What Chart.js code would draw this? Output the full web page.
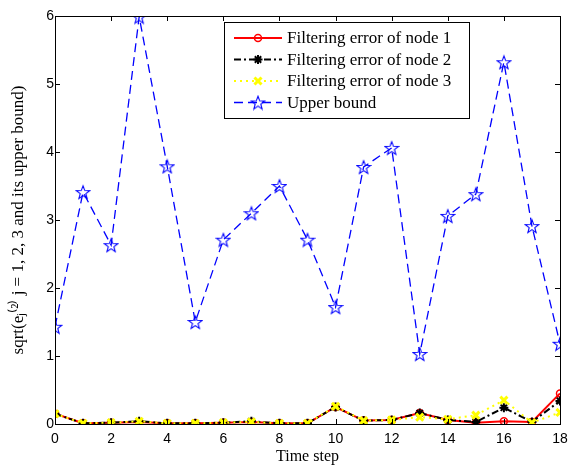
<!DOCTYPE html>
<html>
<head>
<meta charset="utf-8">
<script src="https://cdn.jsdelivr.net/npm/chart.js@4/dist/chart.umd.min.js"></script>
<style>
  html, body { margin: 0; padding: 0; background: #fff; }
  #wrap { width: 587px; height: 466px; }
</style>
</head>
<body>
<div id="wrap"><canvas id="c" width="587" height="466"></canvas></div>
<script>
// time steps and values
const steps = [0, 1, 2, 3, 4, 5, 6, 7, 8, 9, 10, 11, 12, 13, 14, 15, 16, 17, 18];
const node1 = [0.15, 0.01, 0.02, 0.03, 0.01, 0.01, 0.02, 0.03, 0.01, 0.01, 0.25, 0.05, 0.06, 0.16, 0.06, 0.02, 0.04, 0.03, 0.45];
const node2 = [0.15, 0.01, 0.02, 0.04, 0.01, 0.01, 0.02, 0.04, 0.01, 0.01, 0.25, 0.05, 0.06, 0.16, 0.06, 0.03, 0.24, 0.03, 0.34];
const node3 = [0.15, 0.01, 0.02, 0.04, 0.01, 0.01, 0.02, 0.03, 0.01, 0.01, 0.26, 0.05, 0.06, 0.10, 0.07, 0.13, 0.35, 0.02, 0.17];
const upper = [1.43, 3.41, 2.63, 5.99, 3.79, 1.50, 2.71, 3.10, 3.50, 2.71, 1.72, 3.78, 4.06, 1.03, 3.06, 3.38, 5.32, 2.91, 1.18];
const seriesNames = ["Filtering error of node 1", "Filtering error of node 2", "Filtering error of node 3", "Upper bound"];
const xTicks = [0, 2, 4, 6, 8, 10, 12, 14, 16, 18];
const yTicks = [0, 1, 2, 3, 4, 5, 6];

const pts = vals => vals.map((v, i) => ({ x: steps[i], y: v }));

// open pentagram marker like matlab's 'p'
function makeStar(color, size) {
  const c = document.createElement("canvas");
  c.width = size; c.height = size;
  const g = c.getContext("2d");
  const cx = size / 2, cy = size / 2 + 0.7, R = size / 2 - 1, r = R * 0.42;
  g.beginPath();
  for (let k = 0; k < 10; k++) {
    const a = -Math.PI / 2 + k * Math.PI / 5;
    const rr = k % 2 === 0 ? R : r;
    const px = cx + rr * Math.cos(a), py = cy + rr * Math.sin(a);
    k === 0 ? g.moveTo(px, py) : g.lineTo(px, py);
  }
  g.closePath();
  g.strokeStyle = color;
  g.lineWidth = 1.1;
  g.stroke();
  return c;
}
const starImg = makeStar("#0000ff", 16);

const datasets = [
  { label: seriesNames[0], data: pts(node1), borderColor: "#ff0000", backgroundColor: "rgba(0,0,0,0)",
    borderWidth: 2, pointStyle: "circle", pointRadius: 3.5, pointBorderWidth: 1.5, order: 3 },
  { label: seriesNames[1], data: pts(node2), borderColor: "#000000", backgroundColor: "#000000",
    borderWidth: 2, borderDash: [7, 3, 2, 3], pointStyle: "star", pointRadius: 4.5, pointBorderWidth: 2, order: 2 },
  { label: seriesNames[2], data: pts(node3), borderColor: "#ffff00", backgroundColor: "#ffff00",
    borderWidth: 2, borderDash: [2, 4], pointStyle: "crossRot", pointRadius: 5, pointBorderWidth: 3, order: 1 },
  { label: seriesNames[3], data: pts(upper), borderColor: "#0000ff", backgroundColor: "#0000ff",
    borderWidth: 1.3, borderDash: [9, 5], pointStyle: starImg, order: 0 }
];

// frame with inward ticks on all four sides, plus the boxed legend
const framePlugin = {
  id: "frame",
  afterDraw(chart) {
    const { ctx, chartArea: a, scales } = chart;
    ctx.save();
    ctx.strokeStyle = "#000";
    ctx.lineWidth = 1;
    ctx.strokeRect(Math.round(a.left) + 0.5, Math.round(a.top) + 0.5, Math.round(a.right - a.left), Math.round(a.bottom - a.top));
    ctx.beginPath();
    xTicks.forEach(t => {
      const x = Math.round(scales.x.getPixelForValue(t)) + 0.5;
      ctx.moveTo(x, a.bottom); ctx.lineTo(x, a.bottom - 5);
      ctx.moveTo(x, a.top); ctx.lineTo(x, a.top + 5);
    });
    yTicks.forEach(t => {
      const y = Math.round(scales.y.getPixelForValue(t)) + 0.5;
      ctx.moveTo(a.left, y); ctx.lineTo(a.left + 5, y);
      ctx.moveTo(a.right, y); ctx.lineTo(a.right - 5, y);
    });
    ctx.stroke();

    // legend
    const lx = 224, ly = 22, lw = 245, lh = 96;
    ctx.fillStyle = "#fff";
    ctx.fillRect(lx, ly, lw, lh);
    ctx.strokeRect(lx + 0.5, ly + 0.5, lw, lh);
    ctx.font = "17px 'Liberation Serif'";
    ctx.textBaseline = "middle";
    datasets.forEach((d, i) => {
      const y = ly + 16 + i * 21.5;
      ctx.strokeStyle = d.borderColor;
      ctx.lineWidth = d.borderWidth;
      ctx.setLineDash(d.borderDash || []);
      ctx.beginPath(); ctx.moveTo(lx + 10, y); ctx.lineTo(lx + 58, y); ctx.stroke();
      ctx.setLineDash([]);
      ctx.fillStyle = d.backgroundColor;
      ctx.lineWidth = d.pointBorderWidth || 1;
      Chart.helpers.drawPoint(ctx, { pointStyle: d.pointStyle, radius: d.pointRadius || 5, borderWidth: d.pointBorderWidth || 1, rotation: 0 }, lx + 34, y);
      ctx.fillStyle = "#000";
      ctx.fillText(d.label, lx + 63, y + 1);
    });
    ctx.restore();
  }
};

new Chart(document.getElementById("c"), {
  type: "line",
  data: { datasets },
  options: {
    responsive: false,
    animation: false,
    layout: { padding: { top: 16, right: 27, left: 0, bottom: 0 } },
    plugins: { legend: { display: false }, tooltip: { enabled: false } },
    scales: {
      x: {
        type: "linear", min: 0, max: 18,
        afterBuildTicks: s => { s.ticks = xTicks.map(v => ({ value: v })); },
        afterFit: s => { s.height = 42; },
        grid: { display: false, drawTicks: false }, border: { display: false },
        ticks: { color: "#000", font: { family: "'Liberation Sans'", size: 14 }, padding: 7, maxRotation: 0 },
        title: { display: true, text: "Time step", color: "#000", font: { family: "'Liberation Serif'", size: 16 }, padding: { top: 0, bottom: 0 } }
      },
      y: {
        min: 0, max: 6,
        afterBuildTicks: s => { s.ticks = yTicks.map(v => ({ value: v })); },
        afterFit: s => { s.width = 55; },
        grid: { display: false, drawTicks: false }, border: { display: false },
        ticks: { color: "#000", font: { family: "'Liberation Sans'", size: 14 }, padding: 1 },
        title: { display: true, text: "sqrt(eⱼ⁽²⁾ j = 1, 2, 3 and its upper bound)", color: "#000", font: { family: "'Liberation Serif'", size: 17 }, padding: { top: 8, bottom: 0 } }
      }
    }
  },
  plugins: [framePlugin]
});
</script>
</body>
</html>
